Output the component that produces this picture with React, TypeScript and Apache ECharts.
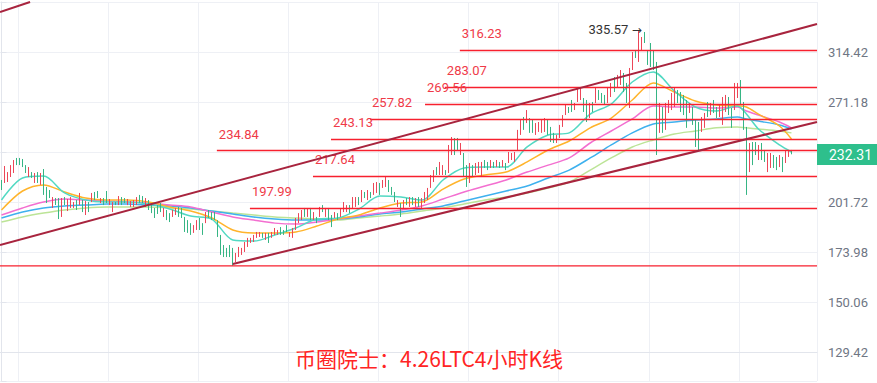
import React, { useEffect, useRef } from "react";
import * as echarts from "echarts";

// ---------- scale (log price axis, labels) ----------
const BASE_PRICE = 129.42;
const TICK_LABELS = ["129.42", "150.06", "173.98", "201.72", "", "271.18", "314.42", ""];
const STEP = Math.log(314.42 / 129.42) / 6;
const toU = (p: number) => Math.log(p / BASE_PRICE) / STEP;
const Y_MIN = -0.58;
const Y_MAX = 7;

const TITLE = "币圈院士：4.26LTC4小时K线";
const CURRENT_PRICE = 232.31;
const HIGH_PRICE = 335.57;
const HIGH_INDEX = 212;

// ---------- candles: [open, close, low, high] ----------
const OHLC: number[][] = [
  [215.3, 209.0, 209.0, 215.3], [213.4, 224.4, 213.4, 224.4], [214.0, 220.4, 214.0, 220.4], [217.2, 225.0, 217.2, 225.0],
  [219.8, 228.4, 219.8, 228.4], [229.8, 225.0, 225.0, 229.8], [229.1, 225.6, 225.0, 229.8], [229.1, 223.7, 223.7, 229.1],
  [225.0, 219.8, 219.8, 225.0], [217.2, 223.7, 217.2, 223.7], [220.4, 216.6, 216.6, 220.4], [213.4, 219.8, 213.4, 219.8],
  [220.4, 213.4, 213.4, 220.4], [212.2, 219.8, 212.2, 219.8], [222.4, 206.0, 206.0, 222.4], [210.9, 201.1, 201.1, 210.9],
  [209.0, 204.1, 204.1, 209.0], [198.2, 204.7, 198.2, 204.7], [204.1, 199.9, 199.9, 204.1], [204.1, 191.8, 191.8, 204.1],
  [193.0, 204.1, 193.0, 204.1], [204.7, 199.9, 199.9, 204.7], [196.4, 203.5, 196.4, 203.5], [198.2, 204.7, 198.2, 204.7],
  [198.2, 201.7, 198.2, 201.7], [202.9, 197.0, 197.0, 202.9], [199.9, 207.2, 199.9, 207.2], [202.9, 195.8, 195.8, 202.9],
  [194.1, 202.3, 194.1, 202.3], [201.7, 195.8, 195.8, 201.7], [201.7, 207.2, 201.7, 207.2], [207.8, 202.9, 202.9, 207.8],
  [208.4, 204.1, 204.1, 208.4], [201.1, 204.1, 201.1, 204.1], [204.1, 199.9, 199.9, 204.1], [208.4, 201.1, 201.1, 208.4],
  [199.9, 203.5, 199.9, 203.5], [195.8, 201.7, 195.8, 201.7], [201.7, 199.9, 199.9, 201.7], [199.9, 205.3, 199.9, 205.3],
  [204.7, 199.9, 199.9, 204.7], [204.1, 201.1, 201.1, 204.1], [199.9, 203.5, 199.9, 203.5], [198.8, 202.3, 198.8, 202.3],
  [198.8, 202.9, 198.8, 202.9], [199.9, 204.7, 199.9, 204.7], [206.0, 201.1, 201.1, 206.0], [205.3, 201.1, 201.1, 205.3],
  [198.8, 204.1, 198.8, 204.1], [202.9, 197.0, 197.0, 202.9], [199.9, 195.2, 195.2, 199.9], [198.2, 192.4, 192.4, 198.2],
  [199.9, 194.7, 194.7, 199.9], [201.1, 195.8, 195.8, 201.1], [193.0, 198.2, 193.0, 198.2], [197.0, 191.2, 191.2, 197.0],
  [195.2, 190.1, 190.1, 195.2], [193.0, 197.0, 193.0, 197.0], [194.1, 198.2, 194.1, 198.2], [198.8, 193.0, 193.0, 198.8],
  [198.2, 192.4, 192.4, 198.2], [193.0, 184.6, 184.6, 193.0], [191.2, 184.1, 184.1, 191.2], [189.5, 183.0, 183.0, 189.5],
  [184.1, 188.4, 184.1, 188.4], [185.7, 191.2, 185.7, 191.2], [192.4, 185.7, 185.7, 192.4], [189.5, 183.0, 183.0, 189.5],
  [189.5, 195.8, 189.5, 195.8], [197.0, 192.4, 192.4, 197.0], [195.8, 191.2, 191.2, 195.8], [194.7, 191.8, 191.2, 195.8],
  [191.2, 181.9, 181.9, 191.2], [183.0, 172.5, 172.5, 183.0], [177.6, 171.4, 171.4, 177.6], [176.1, 171.4, 171.4, 176.1],
  [177.6, 171.4, 171.4, 177.6], [176.1, 167.4, 167.0, 176.1], [168.9, 173.5, 168.9, 173.5], [171.4, 176.6, 171.4, 176.6],
  [172.5, 176.1, 172.5, 176.1], [174.0, 179.2, 174.0, 179.2], [176.6, 181.4, 176.6, 181.4], [178.7, 181.4, 178.7, 181.4],
  [179.2, 183.0, 179.2, 183.0], [181.4, 184.6, 181.4, 184.6], [181.9, 184.6, 181.9, 184.6], [184.1, 181.4, 181.4, 184.1],
  [180.3, 184.1, 180.3, 184.1], [184.1, 178.7, 178.7, 184.1], [181.4, 184.6, 181.4, 184.6], [183.0, 186.8, 183.0, 186.8],
  [183.0, 185.7, 183.0, 185.7], [187.3, 183.0, 183.0, 187.3], [185.7, 183.0, 183.0, 185.7], [188.4, 184.6, 184.6, 188.4],
  [181.9, 184.6, 181.9, 184.6], [181.4, 186.8, 181.4, 186.8], [185.7, 192.4, 185.7, 192.4], [189.5, 195.2, 189.5, 195.2],
  [191.2, 197.0, 191.2, 197.0], [198.2, 193.0, 193.0, 198.2], [193.0, 197.6, 193.0, 197.6], [198.2, 191.2, 191.2, 198.2],
  [191.2, 195.8, 191.2, 195.8], [193.0, 189.5, 189.5, 193.0], [193.0, 198.8, 193.0, 198.8],
  [199.9, 195.8, 195.8, 199.9], [193.0, 198.2, 193.0, 198.2], [198.2, 191.2, 191.2, 198.2], [194.1, 187.3, 187.3, 194.1],
  [192.4, 195.8, 192.4, 195.8], [195.2, 191.2, 191.2, 195.2], [193.0, 198.2, 193.0, 198.2], [195.8, 201.7, 195.8, 201.7],
  [195.8, 199.9, 195.8, 199.9], [199.9, 195.2, 195.2, 199.9], [198.2, 204.7, 198.2, 204.7], [198.8, 204.7, 198.8, 204.7],
  [204.7, 199.9, 199.9, 204.7], [201.7, 209.0, 201.7, 209.0], [207.8, 204.1, 204.1, 207.8], [202.9, 209.0, 202.9, 209.0],
  [207.8, 204.1, 204.1, 207.8], [206.0, 213.4, 206.0, 213.4], [207.2, 214.0, 207.2, 214.0], [213.4, 206.0, 206.0, 213.4],
  [210.3, 215.3, 210.3, 215.3], [210.9, 217.2, 210.9, 217.2], [215.3, 207.8, 207.8, 215.3], [210.9, 206.0, 206.0, 210.9],
  [207.8, 201.7, 201.7, 207.8], [198.8, 202.9, 198.8, 202.9], [201.1, 193.0, 193.0, 201.1], [198.2, 202.9, 198.2, 202.9],
  [204.1, 199.9, 199.9, 204.1], [198.8, 204.7, 198.8, 204.7], [204.7, 199.9, 199.9, 204.7], [198.8, 204.1, 198.8, 204.1],
  [204.7, 198.8, 198.8, 204.7], [198.2, 204.1, 198.2, 204.1], [201.1, 207.8, 201.1, 207.8], [202.9, 210.3, 202.9, 210.3],
  [210.3, 218.5, 210.3, 218.5], [214.0, 221.7, 214.0, 221.7], [223.7, 218.5, 218.5, 223.7], [218.5, 227.1, 218.5, 227.1],
  [218.5, 225.0, 218.5, 225.0], [221.7, 218.5, 218.5, 221.7], [219.8, 238.8, 219.8, 238.8], [231.8, 244.5, 231.8, 244.5],
  [243.8, 231.8, 231.8, 243.8], [243.8, 235.3, 235.3, 243.8], [231.8, 240.2, 231.8, 240.2], [233.2, 217.2, 217.2, 233.2],
  [225.0, 210.9, 210.9, 225.0], [213.4, 226.4, 213.4, 226.4], [225.0, 217.2, 217.2, 225.0], [218.5, 226.4, 218.5, 226.4],
  [219.8, 227.1, 219.8, 227.1],
  [217.2, 227.1, 217.2, 227.1], [228.4, 223.1, 223.1, 228.4], [227.1, 221.7, 221.7, 227.1], [223.1, 228.4, 223.1, 228.4],
  [227.1, 223.1, 223.1, 227.1], [223.7, 228.4, 223.7, 228.4], [227.1, 223.1, 223.1, 227.1], [223.7, 228.4, 223.7, 228.4],
  [226.4, 221.7, 221.7, 226.4], [226.4, 233.9, 226.4, 233.9], [228.4, 233.2, 228.4, 233.2], [227.1, 233.9, 227.1, 233.9],
  [235.3, 249.7, 235.3, 249.7], [246.0, 257.1, 246.0, 257.1], [259.4, 249.7, 249.7, 259.4], [254.8, 264.8, 254.8, 264.8],
  [258.6, 247.5, 247.5, 258.6], [257.1, 247.5, 247.5, 257.1], [246.0, 254.8, 246.0, 254.8], [248.2, 255.6, 248.2, 255.6],
  [247.5, 257.1, 247.5, 257.1], [248.2, 258.6, 248.2, 258.6], [257.1, 246.0, 246.0, 257.1], [251.9, 240.9, 240.9, 251.9],
  [247.5, 240.2, 240.2, 247.5], [240.2, 246.0, 240.2, 246.0], [243.8, 253.4, 243.8, 253.4], [251.9, 260.9, 251.9, 260.9],
  [260.9, 268.8, 260.9, 268.8], [267.2, 262.5, 262.5, 267.2], [272.8, 263.3, 263.3, 272.8], [264.8, 270.4, 264.8, 270.4],
  [271.2, 282.7, 271.2, 282.7], [272.8, 283.5, 272.8, 283.5], [274.4, 263.3, 263.3, 274.4], [272.8, 255.6, 255.6, 272.8],
  [258.6, 270.4, 258.6, 270.4], [271.2, 263.3, 263.3, 271.2], [270.4, 282.7, 270.4, 282.7], [281.0, 272.8, 272.8, 281.0],
  [278.5, 270.4, 270.4, 278.5], [276.9, 268.8, 268.8, 276.9], [270.4, 283.5, 270.4, 283.5], [275.2, 286.9, 275.2, 286.9],
  [292.0, 279.3, 279.3, 292.0], [283.5, 293.8, 283.5, 293.8], [285.2, 298.1, 285.2, 298.1], [295.5, 279.3, 279.3, 295.5],
  [286.9, 270.4, 270.4, 286.9], [266.4, 299.9, 266.4, 299.9], [298.1, 314.4, 298.1, 314.4], [316.3, 308.9, 308.9, 316.3],
  [305.3, 323.9, 305.3, 335.57], [316.3, 328.7, 316.3, 328.7], [333.6, 322.9, 322.9, 333.6], [316.3, 302.6, 302.6, 316.3],
  [322.9, 300.8, 300.8, 322.9], [316.3, 298.1, 298.1, 316.3], [305.3, 264.8, 231.8, 305.3], [247.5, 270.4, 247.5, 270.4],
  [267.2, 247.5, 247.5, 267.2], [249.7, 270.4, 249.7, 270.4], [262.5, 272.8, 262.5, 272.8], [264.8, 278.5, 264.8, 278.5],
  [267.2, 282.7, 267.2, 282.7], [281.0, 270.4, 270.4, 281.0], [279.3, 263.3, 263.3, 279.3], [276.9, 260.9, 260.9, 276.9],
  [272.8, 251.2, 251.2, 272.8], [262.5, 270.4, 262.5, 270.4], [267.2, 253.4, 253.4, 267.2], [257.1, 237.4, 237.4, 257.1],
  [255.6, 235.3, 235.3, 255.6], [248.2, 259.4, 248.2, 259.4], [251.2, 262.5, 251.2, 262.5], [271.2, 259.4, 259.4, 271.2],
  [260.9, 270.4, 260.9, 270.4], [272.8, 262.5, 262.5, 272.8], [267.2, 258.6, 258.6, 267.2], [259.4, 268.8, 259.4, 268.8],
  [253.4, 275.2, 253.4, 275.2], [263.3, 276.9, 263.3, 276.9], [275.2, 260.9, 260.9, 275.2], [266.4, 251.2, 251.2, 266.4],
  [264.8, 286.9, 264.8, 286.9], [274.4, 286.9, 274.4, 286.9], [289.4, 268.8, 268.8, 289.4], [271.2, 249.7, 249.7, 271.2],
  [249.7, 221.7, 206.0, 251.9], [220.4, 240.2, 220.4, 240.2], [240.9, 225.0, 225.0, 240.9], [240.9, 231.8, 231.8, 240.9],
  [228.4, 238.8, 228.4, 238.8], [240.2, 228.4, 228.4, 240.2], [235.3, 227.1, 227.1, 235.3], [220.4, 233.2, 220.4, 233.2],
  [223.1, 233.2, 223.1, 233.2], [231.8, 223.1, 223.1, 231.8], [230.5, 221.7, 221.7, 230.5], [223.7, 231.8, 223.7, 231.8],
  [230.5, 220.4, 220.4, 230.5], [226.4, 235.3, 226.4, 235.3], [230.5, 235.3, 230.5, 235.3], [235.3, 232.31, 232.31, 235.3],
];
const EMPTY_SLOTS = 8;
const CATEGORIES = OHLC.map((_, i) => `K${i + 1}`).concat(
  Array.from({ length: EMPTY_SLOTS }, (_, i) => `E${i + 1}`)
);
const X_LAST = CATEGORIES.length - 0.5;

// ---------- moving averages (read at sample candles) ----------
const MA_IDX = [0, 7, 14, 21, 28, 35, 42, 49, 56, 63, 70, 77, 84, 91, 98, 105, 112, 119, 126, 133, 140, 147, 154, 161, 168, 175, 182, 189, 196, 203, 210, 217, 224, 231, 238, 245, 248, 252, 259, 263];
const MA_CYAN = [202.9, 216.6, 217.8, 207.2, 202.9, 201.7, 201.7, 200.5, 197.6, 193.5, 191.8, 180.3, 179.7, 183.0, 186.8, 191.8, 192.4, 197.6, 205.3, 204.7, 202.9, 215.3, 223.1, 223.7, 223.7, 237.4, 246.0, 247.5, 261.7, 269.6, 287.7, 296.4, 280.2, 267.2, 264.1, 268.0, 261.7, 250.4, 238.8, 233.9];
const MA_ORANGE = [197.0, 208.4, 212.2, 207.8, 204.1, 202.9, 202.9, 201.7, 198.8, 196.4, 192.4, 185.7, 184.1, 184.1, 184.6, 187.9, 191.8, 194.1, 198.2, 201.1, 201.7, 209.6, 215.9, 218.5, 220.4, 227.1, 235.3, 241.6, 251.2, 258.6, 272.8, 286.9, 279.3, 272.0, 268.8, 268.0, 267.2, 261.7, 252.6, 243.1];
const MA_PINK = [194.1, 198.2, 201.7, 203.5, 202.9, 202.3, 201.7, 201.1, 199.9, 198.8, 195.8, 193.0, 191.2, 189.5, 189.0, 190.1, 191.8, 193.5, 195.2, 197.0, 199.4, 203.5, 207.8, 211.5, 215.3, 220.4, 225.0, 229.8, 240.2, 248.9, 257.9, 268.0, 267.2, 267.2, 266.4, 267.2, 264.1, 260.9, 255.6, 251.2];
const MA_BLUE = [192.4, 195.8, 198.2, 199.4, 199.9, 200.5, 200.5, 199.9, 199.4, 198.2, 196.4, 194.7, 193.0, 191.8, 191.2, 191.2, 191.8, 193.0, 194.7, 195.8, 197.6, 199.4, 202.3, 205.3, 208.4, 211.5, 216.6, 221.7, 229.8, 238.8, 247.5, 254.1, 255.6, 257.1, 257.9, 259.4, 257.9, 256.3, 253.4, 250.4];
const MA_GREEN = [190.1, 193.0, 195.2, 197.0, 198.2, 198.8, 198.8, 198.8, 198.2, 197.6, 196.4, 195.2, 194.1, 193.0, 192.4, 191.8, 191.2, 192.4, 193.5, 194.7, 196.4, 198.2, 200.5, 202.9, 204.7, 207.2, 210.3, 214.0, 221.7, 229.8, 237.4, 242.4, 246.7, 248.9, 251.2, 251.9, 251.2, 250.4, 248.9, 247.5];

// ---------- drawn levels ----------
const LEVEL_PRICES = [316.23, 283.07, 269.56, 257.82, 243.13, 234.84, 217.64, 197.99];
const LEVEL_LABELS = ["316.23", "283.07", "269.56", "257.82", "243.13", "234.84", "217.64", "197.99"];
const LEVEL_START = [152.6, 147.6, 141.0, 122.7, 109.7, 71.7, 103.7, 82.7];
const SUPPORT_PRICE = 167.0;

// ---------- trend channel lines: [candle position, price] ----------
const CHANNEL_UPPER = [[-0.5, 177.6], [271.5, 341.6]];
const CHANNEL_LOWER = [[77, 167.9], [271.5, 255.6]];
const CHANNEL_OLD = [[-0.5, 353.9], [9.5, 364.5]];

const RED = "#ec4658";
const GREEN = "#36b584";
const LEVEL_RED = "#f7202e";
const CHANNEL = "#a8243e";

export default function App() {
  const ref = useRef<HTMLDivElement>(null);
  useEffect(() => {
    if (!ref.current) return;
    const chart = echarts.init(ref.current, undefined, { renderer: "svg" });
    const maSeries = (data: number[], color: string) => ({
      type: "line",
      xAxisIndex: 0,
      yAxisIndex: 0,
      data: MA_IDX.map((ix, k) => [ix, toU(data[k])]),
      smooth: 0.3,
      showSymbol: false,
      symbol: "none",
      silent: true,
      lineStyle: { color, width: 1.5 },
      z: 3,
    });
    const trend = (pts: number[][]) => ({
      type: "line",
      xAxisIndex: 1,
      yAxisIndex: 0,
      data: pts.map(([x, p]) => [x, toU(p)]),
      symbol: "none",
      silent: true,
      lineStyle: { color: CHANNEL, width: 2 },
      z: 5,
    });
    chart.setOption({
      animation: false,
      title: {
        text: TITLE,
        left: 295,
        top: 347,
        padding: 0,
        textStyle: {
          color: "#ff2424",
          fontSize: 21,
          fontWeight: "normal",
          fontFamily: "Noto Sans CJK SC",
        },
      },
      grid: { left: 0, right: 60, top: 2, bottom: 2, containLabel: false },
      xAxis: [
        {
          type: "category",
          data: CATEGORIES,
          boundaryGap: true,
          axisLine: { show: true, lineStyle: { color: "#e2e5ec" } },
          axisTick: { show: false },
          axisLabel: { show: false },
          splitLine: {
            show: true,
            interval: (i: number) => i % 30 === 6,
            lineStyle: { color: "#eef0f5", width: 1 },
          },
        },
        { type: "value", min: -0.5, max: X_LAST, show: false, splitLine: { show: false } },
      ],
      yAxis: {
        type: "value",
        position: "right",
        min: Y_MIN,
        max: Y_MAX,
        splitNumber: 8,
        axisLine: { show: true, lineStyle: { color: "#e2e5ec" } },
        axisTick: { show: true, length: 5, lineStyle: { color: "#e2e5ec" } },
        axisLabel: {
          margin: 11,
          color: "#6f7684",
          fontSize: 13,
          fontFamily: "Roboto",
          formatter: (v: number) => {
            const k = Math.round(v);
            if (Math.abs(v - k) > 1e-6) return "";
            return TICK_LABELS[k] ?? "";
          },
        },
        splitLine: { show: true, lineStyle: { color: "#eef0f5" } },
      },
      series: [
        maSeries(MA_GREEN, "#bce497"),
        maSeries(MA_BLUE, "#3eb1ee"),
        maSeries(MA_PINK, "#f36fd0"),
        maSeries(MA_ORANGE, "#ffb42c"),
        maSeries(MA_CYAN, "#52d9c3"),
        {
          type: "candlestick",
          xAxisIndex: 0,
          yAxisIndex: 0,
          data: OHLC.map((r) => r.map(toU)),
          barWidth: 1,
          clip: false,
          z: 4,
          itemStyle: {
            color: RED,
            color0: GREEN,
            borderColor: RED,
            borderColor0: GREEN,
            borderWidth: 1,
          },
          markPoint: {
            silent: true,
            symbol: "circle",
            symbolSize: 1,
            itemStyle: { color: "rgba(0,0,0,0)" },
            data: [
              {
                coord: [HIGH_INDEX, toU(HIGH_PRICE)],
                label: {
                  show: true,
                  position: "left",
                  distance: -4,
                  formatter: `{a|${HIGH_PRICE.toFixed(2)}} {b|→}`,
                  rich: {
                    a: { color: "#333333", fontSize: 13, fontFamily: "Roboto" },
                    b: { color: "#333333", fontSize: 12, fontFamily: "DejaVu Sans" },
                  },
                },
              },
            ],
          },
          markLine: {
            silent: true,
            symbol: ["none", "none"],
            lineStyle: { color: "rgba(0,0,0,0)", width: 0 },
            data: [
              {
                yAxis: toU(CURRENT_PRICE),
                label: {
                  show: true,
                  position: "end",
                  distance: 0,
                  formatter: CURRENT_PRICE.toFixed(2),
                  backgroundColor: "#2ebf8c",
                  color: "#ffffff",
                  fontSize: 14,
                  fontFamily: "Roboto",
                  padding: [4, 12, 3, 12],
                },
              },
            ],
          },
        },
        trend(CHANNEL_UPPER),
        trend(CHANNEL_LOWER),
        trend(CHANNEL_OLD),
        {
          type: "line",
          xAxisIndex: 1,
          yAxisIndex: 0,
          data: [[-0.5, toU(SUPPORT_PRICE)], [X_LAST, toU(SUPPORT_PRICE)]],
          symbol: "none",
          silent: true,
          lineStyle: { color: LEVEL_RED, width: 1.3 },
          z: 6,
          markLine: {
            silent: true,
            symbol: ["none", "none"],
            lineStyle: { color: LEVEL_RED, width: 1.3, type: "solid" },
            label: {
              show: true,
              position: "insideStartTop",
              distance: [2, 10],
              color: "#ef3a48",
              fontSize: 13,
              fontFamily: "Roboto",
            },
            data: LEVEL_PRICES.map((p, k) => [
              { coord: [LEVEL_START[k], toU(p)], label: { formatter: LEVEL_LABELS[k] } },
              { coord: [X_LAST, toU(p)] },
            ]),
          },
        },
      ],
    });
    return () => chart.dispose();
  }, []);
  return (
    <div
      ref={ref}
      style={{ position: "fixed", left: 0, top: 0, width: 877, height: 383, background: "#ffffff" }}
    />
  );
}
